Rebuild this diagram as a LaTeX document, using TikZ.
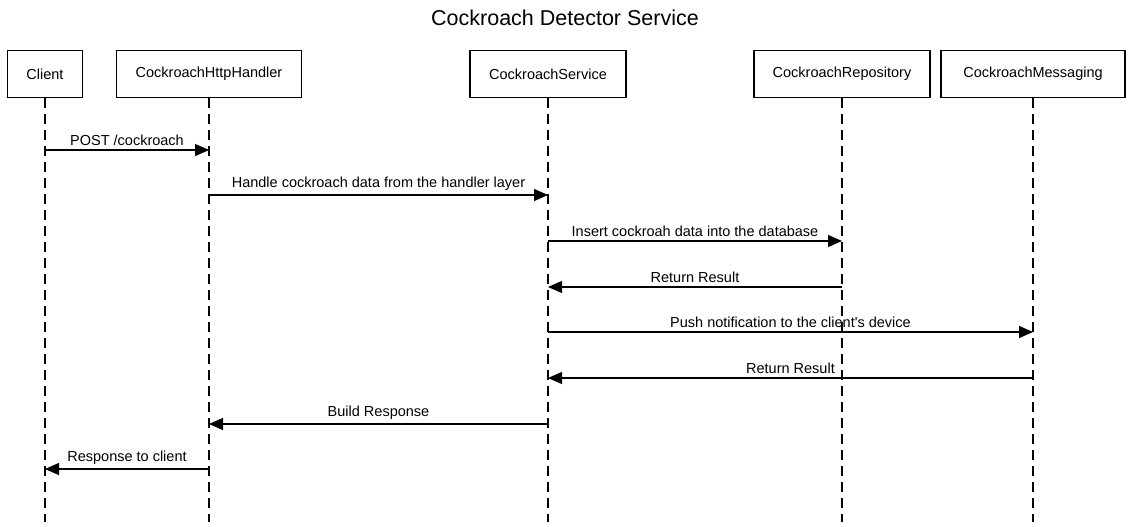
\documentclass[tikz,border=0pt]{standalone}
\usepackage{fontspec}
\setmainfont{Liberation Sans}
\usepackage{tikz}
\usetikzlibrary{calc, positioning, arrows.meta}
\tikzstyle{actor}=[draw, line width=1.9pt, shape=rectangle, minimum height=47pt, inner sep=0pt, font=\fontsize{14.5}{16}\selectfont]
\tikzstyle{life}=[line width=1.2pt, dash pattern=on 10pt off 6pt]
\tikzstyle{msg}=[line width=1.2pt, -{Triangle[length=14pt, width=12pt]}]
\tikzstyle{lbl}=[above, inner sep=4pt, font=\fontsize{14.5}{16}\selectfont]

\begin{document}
\begin{tikzpicture}[x=1pt, y=-1pt]
\useasboundingbox (0,0) rectangle (1130,527);
% the title
\node[font=\fontsize{21.5}{24}\selectfont] (title) at (565,18) {Cockroach Detector Service};
% the participants
\node[actor, minimum width=75pt] (C) at (45,74) {Client};
\node[actor, minimum width=185pt] (H) at (209,74) {CockroachHttpHandler};
\node[actor, minimum width=156pt] (S) at (548,74) {CockroachService};
\node[actor, minimum width=176pt] (R) at (842,74) {CockroachRepository};
\node[actor, minimum width=184pt] (M) at (1033,74) {CockroachMessaging};
% the end of the lifelines
\coordinate (bottom) at (0,522);
% the lifelines
\foreach \p in {C, H, S, R, M}
  \draw[life] (\p.south) -- (\p |- bottom);
% the rows of the messages
\coordinate (m1) at (0,150);
\coordinate (m2) at (0,195);
\coordinate (m3) at (0,241);
\coordinate (m4) at (0,287);
\coordinate (m5) at (0,332);
\coordinate (m6) at (0,378);
\coordinate (m7) at (0,424);
\coordinate (m8) at (0,469);
% the messages
\draw[msg] (C |- m1) -- node[lbl] {POST /cockroach} (H |- m1);
\draw[msg] (H |- m2) -- node[lbl] {Handle cockroach data from the handler layer} (S |- m2);
\draw[msg] (S |- m3) -- node[lbl] {Insert cockroah data into the database} (R |- m3);
\draw[msg] (R |- m4) -- node[lbl] {Return Result} (S |- m4);
\draw[msg] (S |- m5) -- node[lbl] {Push notification to the client\textquotesingle s device} (M |- m5);
\draw[msg] (M |- m6) -- node[lbl] {Return Result} (S |- m6);
\draw[msg] (S |- m7) -- node[lbl] {Build Response} (H |- m7);
\draw[msg] (H |- m8) -- node[lbl] {Response to client} (C |- m8);
\end{tikzpicture}
\end{document}
